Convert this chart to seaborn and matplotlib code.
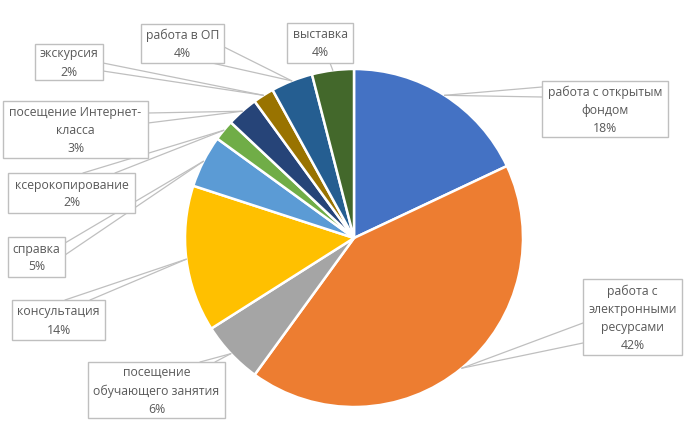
import numpy as np
import matplotlib
matplotlib.use("Agg")
import matplotlib.pyplot as plt
import matplotlib.patches as mpatches
import seaborn as sns

# data (clockwise from 12 o'clock)
categories = ["работа с открытым\nфондом", "работа с\nэлектронными\nресурсами",
              "посещение\nобучающего занятия", "консультация", "справка",
              "ксерокопирование", "посещение Интернет-\nкласса", "экскурсия",
              "работа в ОП", "выставка"]
shares = [18, 42, 6, 14, 5, 2, 3, 2, 4, 4]
colors = ["#4472C4", "#ED7D31", "#A5A5A5", "#FFC000", "#5B9BD5",
          "#70AD47", "#264478", "#997300", "#255E91", "#43682B"]

# label boxes in pixel coords: x0, x1, y0, y1 and leader anchors
boxes = [(542, 668, 81, 137), (583, 682, 279, 355), (88, 225, 362, 418),
         (12, 105, 300, 340), (8, 65, 237, 277), (8, 135, 173, 213),
         (3, 148, 101, 158), (35, 103, 44, 80), (141, 224, 24, 63),
         (287, 353, 23, 63)]
anchors = [[(542, 87), (542, 97)], [(583, 323), (583, 343)],
           [(200, 362), (215, 362)], [(65, 300), (90, 300)],
           [(65, 243), (65, 255)], [(83, 173), (115, 173)],
           [(148, 113), (148, 123)], [(103, 63), (103, 71)],
           [(224, 47), (212, 63)], [(330, 63)]]

sns.set_theme(style="white")
plt.rcParams["font.family"] = ["Open Sans", "DejaVu Sans"]

fig = plt.figure(figsize=(6.9, 4.46), dpi=100)
ax = fig.add_axes([0, 0, 1, 1])

cx, cy, R = 354, 238, 169
wedges, _ = ax.pie(shares, colors=colors, startangle=-90, counterclock=True,
                   center=(cx, cy), radius=R, frame=True,
                   wedgeprops=dict(edgecolor="white", linewidth=1.8))
ax.set_xlim(0, 690)
ax.set_ylim(446, 0)
ax.set_aspect("equal")
ax.axis("off")

for w, lab, val, (x0, x1, y0, y1), anc in zip(wedges, categories, shares, boxes, anchors):
    mid = np.deg2rad((w.theta1 + w.theta2) / 2)
    px, py = cx + R * np.cos(mid), cy + R * np.sin(mid)
    for ax_, ay_ in anc:
        ax.plot([px, ax_], [py, ay_], color="#BFBFBF", lw=0.9, zorder=1)
    ax.add_patch(mpatches.Rectangle((x0, y0), x1 - x0, y1 - y0, facecolor="white",
                                    edgecolor="#BFBFBF", lw=1, zorder=3))
    ax.text((x0 + x1) / 2, (y0 + y1) / 2 + 1, f"{lab}\n{val}%", ha="center", va="center",
            fontsize=8.8, color="#595959", linespacing=1.5, zorder=4)

fig.savefig("out.png", dpi=100)
